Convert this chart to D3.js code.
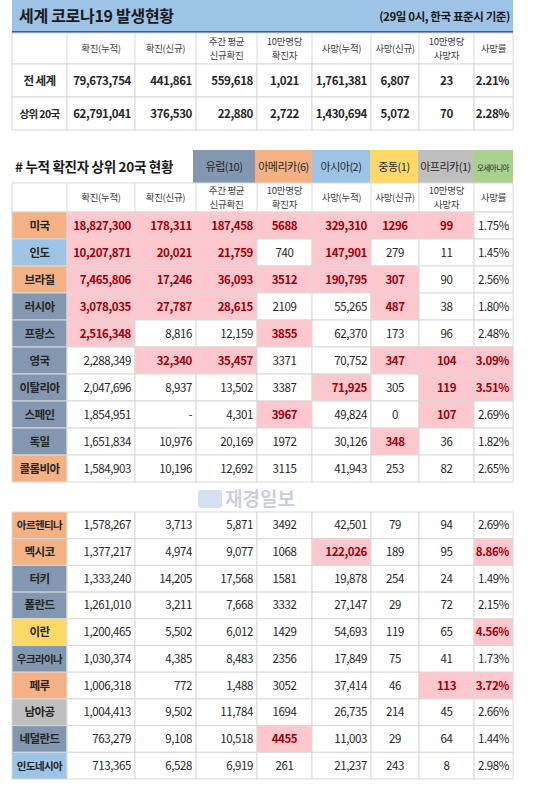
<!DOCTYPE html>
<html><head><meta charset="utf-8">
<script src="https://cdn.jsdelivr.net/npm/d3@7"></script>
<style>body{margin:0;background:#fff}text{font-family:"Noto Sans CJK KR","Noto Sans",sans-serif}</style>
</head><body><svg id="c" width="548" height="788"></svg>
<script>
const title = "세계 코로나19 발생현황";
const subtitle = "(29일 0시, 한국 표준시 기준)";
const headers = [["확진(누적)"],["확진(신규)"],["주간 평균","신규확진"],["10만명당","확진자"],["사망(누적)"],["사망(신규)"],["10만명당","사망자"],["사망률"]];
const summaryLabels = ["전 세계","상위 20국"];
const summaryValues = [
 ["79,673,754","441,861","559,618","1,021","1,761,381","6,807","23","2.21%"],
 ["62,791,041","376,530","22,880","2,722","1,430,694","5,072","70","2.28%"]];
const section2Title = "# 누적 확진자 상위 20국 현황";
const regions = ["유럽(10)","아메리카(6)","아시아(2)","중동(1)","아프리카(1)","오세아니아"];
const regionKeys = ["eu","am","as","me","af","oc"];
const countries = ["미국","인도","브라질","러시아","프랑스","영국","이탈리아","스페인","독일","콜롬비아",
 "아르헨티나","멕시코","터키","폴란드","이란","우크라이나","페루","남아공","네덜란드","인도네시아"];
const countryRegion = ["am","as","am","eu","eu","eu","eu","eu","eu","am","am","am","eu","eu","me","eu","am","af","eu","as"];
const values = [
 ["18,827,300","178,311","187,458","5688","329,310","1296","99","1.75%"],
 ["10,207,871","20,021","21,759","740","147,901","279","11","1.45%"],
 ["7,465,806","17,246","36,093","3512","190,795","307","90","2.56%"],
 ["3,078,035","27,787","28,615","2109","55,265","487","38","1.80%"],
 ["2,516,348","8,816","12,159","3855","62,370","173","96","2.48%"],
 ["2,288,349","32,340","35,457","3371","70,752","347","104","3.09%"],
 ["2,047,696","8,937","13,502","3387","71,925","305","119","3.51%"],
 ["1,854,951","-","4,301","3967","49,824","0","107","2.69%"],
 ["1,651,834","10,976","20,169","1972","30,126","348","36","1.82%"],
 ["1,584,903","10,196","12,692","3115","41,943","253","82","2.65%"],
 ["1,578,267","3,713","5,871","3492","42,501","79","94","2.69%"],
 ["1,377,217","4,974","9,077","1068","122,026","189","95","8.86%"],
 ["1,333,240","14,205","17,568","1581","19,878","254","24","1.49%"],
 ["1,261,010","3,211","7,668","3332","27,147","29","72","2.15%"],
 ["1,200,465","5,502","6,012","1429","54,693","119","65","4.56%"],
 ["1,030,374","4,385","8,483","2356","17,849","75","41","1.73%"],
 ["1,006,318","772","1,488","3052","37,414","46","113","3.72%"],
 ["1,004,413","9,502","11,784","1694","26,735","214","45","2.66%"],
 ["763,279","9,108","10,518","4455","11,003","29","64","1.44%"],
 ["713,365","6,528","6,919","261","21,237","243","8","2.98%"]];
const highlights = [[0,0,1,2,3,4,5,6],[1,0,1,2,4],[2,0,1,2,3,4,5],[3,0,1,2,5],[4,0,3],[5,1,2,5,6,7],
 [6,4,6,7],[7,3,6],[8,5],[11,4,7],[14,7],[16,6,7],[18,3]];
const watermark = "재경일보";

const regionColor = {eu:"#8497b0",am:"#f4b183",as:"#9dc3e6",me:"#ffd966",af:"#bfbfbf",oc:"#a9d18e"};
const hl = new Set(); highlights.forEach(h=>h.slice(1).forEach(c=>hl.add(h[0]+"_"+c)));
const svg = d3.select("#c");
const edges = [12,67,135,196,257,312,371,419,474,513];
const x = i=>edges[i], w = i=>edges[i+1]-edges[i];
const grid="#d9d9d9", txt="#262626";
const align = ["e","e","e","m","e","m","m","e"];
const colText = (i)=> align[i]==="m" ? x(i+1)+w(i+1)/2 : x(i+2)-4;

svg.append("rect").attr("x",12).attr("y",0).attr("width",501).attr("height",31).attr("fill","#9dc3e6");
svg.append("rect").attr("x",12).attr("y",31).attr("width",501).attr("height",2.5).attr("fill","#2e5fa5");
svg.append("text").attr("x",19).attr("y",22).attr("font-size",16).attr("font-weight","bold").attr("letter-spacing",-0.3).attr("fill","#1a1a1a").text(title);
svg.append("text").attr("x",510).attr("y",21).attr("text-anchor","end").attr("font-size",11.5).attr("font-weight","bold").attr("letter-spacing",-0.4).attr("fill","#1a1a1a").text(subtitle);

function headerRow(y,h){
  svg.append("rect").attr("x",12).attr("y",y).attr("width",501).attr("height",h).attr("fill","#fff").attr("stroke",grid);
  headers.forEach((hd,i)=>{
    svg.append("line").attr("x1",x(i+1)).attr("x2",x(i+1)).attr("y1",y).attr("y2",y+h).attr("stroke",grid);
    const cx=x(i+1)+w(i+1)/2;
    hd.forEach((s,j)=>svg.append("text").attr("x",cx).attr("y",y+h/2+3.5+(j-(hd.length-1)/2)*14).attr("text-anchor","middle").attr("font-size",9.5).attr("letter-spacing",-0.3).attr("fill","#404040").text(s));
  });
}
function dataRow(y,h,label,labelFill,vals,ri,bold){
  svg.append("rect").attr("x",12).attr("y",y).attr("width",55).attr("height",h).attr("fill",labelFill).attr("stroke",grid);
  svg.append("text").attr("x",39.5).attr("y",y+h/2+4).attr("text-anchor","middle").attr("font-size",label.length>4?10.5:11.5).attr("font-weight","bold").attr("letter-spacing",-0.6).attr("fill",txt).text(label);
  vals.forEach((v,i)=>{
    const isH = ri!==null && hl.has(ri+"_"+i);
    svg.append("rect").attr("x",x(i+1)).attr("y",y).attr("width",w(i+1)).attr("height",h).attr("fill",isH?"#ffc7ce":"#fff").attr("stroke",grid);
    const m = align[i]==="m";
    svg.append("text").attr("x",colText(i)).attr("y",y+h/2+4).attr("text-anchor",m?"middle":"end")
      .attr("font-size",11.5).attr("letter-spacing",-0.4).attr("font-weight",(isH||bold)?"bold":"normal").attr("fill",isH?"#9c0006":txt).text(v);
  });
}
headerRow(33,31);
summaryLabels.forEach((l,i)=>dataRow(64+i*33,33,l,"#fff",summaryValues[i],null,true));

svg.append("text").attr("x",15).attr("y",172).attr("font-size",13.5).attr("font-weight","bold").attr("letter-spacing",-0.3).attr("fill","#1a1a1a").text(section2Title);
const rEdges=[193,255,312,370,418,473,513];
regions.forEach((r,i)=>{
  svg.append("rect").attr("x",rEdges[i]).attr("y",150).attr("width",rEdges[i+1]-rEdges[i]).attr("height",33).attr("fill",regionColor[regionKeys[i]]);
  svg.append("text").attr("x",(rEdges[i]+rEdges[i+1])/2).attr("y",171).attr("text-anchor","middle")
    .attr("font-size",i===5?7.5:11).attr("letter-spacing",-0.5).attr("fill","#262626").text(r);
});
headerRow(183,29);
const y1 = d3.scaleBand().domain(d3.range(10)).range([212,482]);
const y2 = d3.scaleBand().domain(d3.range(10,20)).range([512,779]);
countries.forEach((c,i)=>{
  const ys = i<10?y1:y2;
  dataRow(ys(i),ys.bandwidth(),c,regionColor[countryRegion[i]],values[i],i,false);
});
const wm = svg.append("g").attr("opacity",0.35);
wm.append("rect").attr("x",198).attr("y",490).attr("width",24).attr("height",18).attr("fill","#7fa7d6").attr("rx",3);
wm.append("text").attr("x",225).attr("y",506).attr("font-size",19).attr("font-weight","bold").attr("fill","#6b7b93").text(watermark);
</script></body></html>
